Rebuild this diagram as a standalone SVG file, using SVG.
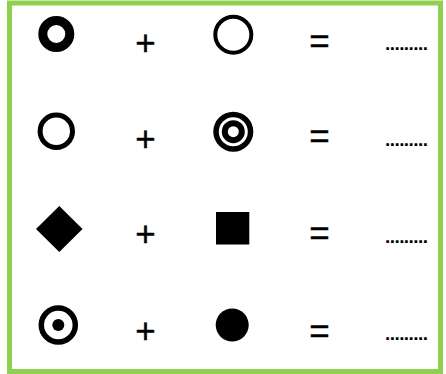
<svg xmlns="http://www.w3.org/2000/svg" width="446" height="374" viewBox="0 0 446 374">
<style>
.op{font-family:"Liberation Sans",Arial,sans-serif;font-size:35px;fill:#000;text-anchor:middle;stroke:#000;stroke-width:0.4}
.dots{font-family:"Liberation Sans",Arial,sans-serif;font-size:19px;font-weight:bold;fill:#000}
.ring{fill:none;stroke:#000}
.blk{fill:#000}
.wht{fill:#fff}
</style>
<rect x="0" y="0" width="446" height="374" fill="#fff"/>
<rect id="frame" x="9.5" y="3" width="431" height="368.5" fill="#fff" stroke="#8fd14f" stroke-width="5"/>

<g id="row1">
  <g id="thick-ring"><circle class="ring" cx="56.3" cy="34" r="13.5" stroke-width="9"/></g>
  <text class="op" x="145.5" y="54.7">+</text>
  <g id="open-circle-1"><circle class="ring" cx="233.3" cy="34.7" r="18" stroke-width="4"/></g>
  <text class="op" x="319.5" y="53.3">=</text>
  <text class="dots" x="385" y="49.5" textLength="43" lengthAdjust="spacing">.........</text>
</g>

<g id="row2">
  <g id="open-circle-2"><circle class="ring" cx="56.3" cy="131.2" r="16.2" stroke-width="5"/></g>
  <text class="op" x="145.5" y="151.2">+</text>
  <g id="bullseye">
    <circle class="blk" cx="233.3" cy="131.7" r="20"/>
    <circle class="wht" cx="233.3" cy="131.7" r="14.5"/>
    <circle class="blk" cx="233.3" cy="131.7" r="11.5"/>
    <circle class="wht" cx="233.3" cy="131.7" r="5.5"/>
  </g>
  <text class="op" x="319.5" y="148.3">=</text>
  <text class="dots" x="385" y="145.5" textLength="43" lengthAdjust="spacing">.........</text>
</g>

<g id="row3">
  <g id="diamond"><polygon class="blk" points="59.3,206 82.5,229 59.3,252 36,229"/></g>
  <text class="op" x="145.5" y="246.2">+</text>
  <g id="square"><rect class="blk" x="216" y="212" width="33.3" height="32.5"/></g>
  <text class="op" x="319.5" y="244.8">=</text>
  <text class="dots" x="385" y="243" textLength="43" lengthAdjust="spacing">.........</text>
</g>

<g id="row4">
  <g id="dot-circle">
    <circle class="ring" cx="58.3" cy="325" r="17" stroke-width="5.5"/>
    <circle class="blk" cx="58.3" cy="325" r="6"/>
  </g>
  <text class="op" x="145.5" y="343.2">+</text>
  <g id="filled-circle"><circle class="blk" cx="232.2" cy="325" r="16.5"/></g>
  <text class="op" x="319.5" y="343.3">=</text>
  <text class="dots" x="385" y="339.5" textLength="43" lengthAdjust="spacing">.........</text>
</g>
<g id="connectors"/>
</svg>
